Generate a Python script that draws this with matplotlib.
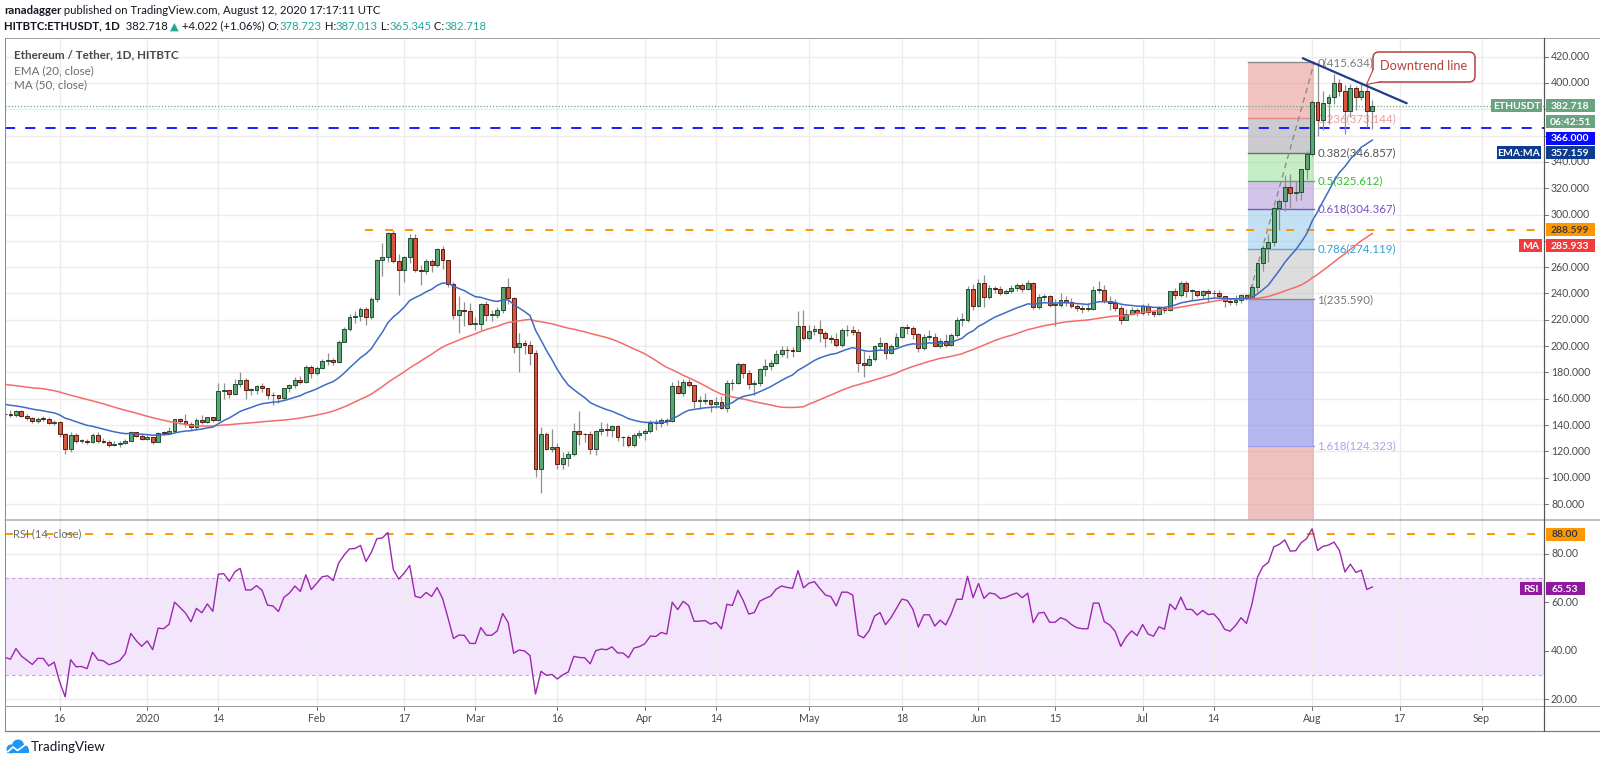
import numpy as np
import matplotlib
matplotlib.use("Agg")
import matplotlib.pyplot as plt
from matplotlib.transforms import IdentityTransform
from matplotlib.patches import Rectangle, FancyBboxPatch, Polygon, Circle
from matplotlib.lines import Line2D

plt.rcParams['font.family'] = ['Lato', 'DejaVu Sans']

W, H = 1600, 763

# ---- ETH/USDT daily candles, 6 Dec 2019 .. 12 Aug 2020 (day 0 = 16 Dec 2019) ----
FIRST_DAY = -10

# closes before the visible window (18 Oct - 5 Dec 2019), only feed the EMA/MA/RSI
pre_close = [172.3, 173.9, 175.2, 174.0, 171.4, 160.5, 160.8, 180.8, 179.7, 184.2, 183.8, 191.0, 183.2, 182.6,
             183.0, 182.6, 181.0, 186.1, 188.5, 191.0, 186.8, 184.5, 186.2, 189.0, 185.5, 187.0, 187.4, 184.0,
             180.3, 182.7, 184.2, 178.1, 175.2, 174.5, 161.4, 149.6, 151.4, 139.7, 145.6, 147.5, 152.2, 151.2,
             155.4, 151.5, 150.8, 149.2, 147.6, 146.2, 148.1]

close_dec = [148.3, 147.5, 150.4, 147.2, 145.3, 143.4, 144.9, 144.8, 141.8, 142.6, 132.9, 121.6, 132.8,
             128.1, 128.2, 126.8, 132.2, 127.8, 127.3, 125.1, 125.6, 126.3, 128.2, 134.4, 131.5, 129.2]
high_dec = [149.5, 151.2, 151.4, 151.8, 148.3, 146.0, 146.2, 146.8, 146.0, 144.1, 143.3, 133.8, 134.8,
            133.9, 129.5, 129.2, 133.8, 135.1, 129.9, 128.9, 127.8, 128.0, 129.6, 135.5, 134.8, 133.7]
low_dec = [145.0, 146.3, 146.5, 146.2, 144.0, 141.4, 141.6, 143.2, 141.1, 140.2, 131.0, 117.8, 119.2,
           126.5, 126.2, 125.8, 126.6, 126.0, 126.5, 123.3, 124.1, 123.7, 125.7, 127.6, 130.8, 128.4]

close_jan = [130.8, 127.3, 134.3, 134.1, 135.6, 144.6, 142.9, 141.1, 138.2, 143.6, 142.2, 145.9, 143.6,
             165.9, 166.3, 163.8, 171.2, 174.5, 166.9, 166.9, 169.8, 168.2, 162.9, 162.6, 160.6, 167.9,
             170.3, 174.6, 172.9, 184.3, 179.2]
high_jan = [132.8, 131.0, 134.7, 135.5, 138.3, 144.9, 145.1, 148.2, 142.6, 145.1, 147.5, 146.3, 146.3,
            172.0, 172.0, 166.8, 174.8, 180.0, 176.0, 167.9, 170.7, 172.0, 168.2, 165.0, 162.6, 168.0,
            171.2, 176.5, 177.5, 185.5, 186.0]
low_jan = [128.8, 125.9, 126.8, 132.7, 133.9, 135.4, 140.9, 138.9, 136.4, 136.4, 140.8, 141.4, 142.1,
           143.2, 159.5, 160.4, 162.8, 169.0, 159.5, 163.1, 163.3, 165.5, 159.8, 155.5, 156.8, 159.5,
           165.3, 168.3, 171.5, 171.8, 176.0]

close_feb = [183.6, 188.7, 189.5, 188.0, 203.2, 213.1, 222.5, 223.1, 228.2, 222.5, 235.8, 265.3, 267.9,
             285.7, 264.6, 258.2, 267.9, 282.4, 258.2, 257.0, 264.6, 261.3, 274.0, 265.3, 247.3, 223.3,
             227.1, 226.6, 217.0]
high_feb = [185.0, 190.5, 195.0, 191.0, 204.5, 214.5, 224.5, 226.5, 229.5, 229.8, 237.2, 266.0, 278.5,
            287.0, 288.6, 270.0, 268.2, 285.0, 285.5, 262.0, 266.2, 266.5, 274.9, 275.9, 265.6, 249.0,
            238.3, 233.4, 232.6]
low_feb = [178.3, 182.8, 186.0, 185.8, 187.3, 202.8, 211.5, 217.5, 218.8, 216.2, 220.6, 233.8, 253.0,
           264.0, 263.5, 238.5, 249.0, 263.0, 256.0, 246.2, 255.0, 256.6, 259.8, 259.0, 244.6, 220.6,
           210.0, 215.1, 215.8]

close_mar = [217.0, 232.0, 223.8, 223.8, 227.6, 245.0, 236.6, 199.1, 202.2, 201.0, 194.5, 106.6, 133.4,
             121.9, 123.0, 110.4, 115.0, 118.1, 135.4, 133.4, 132.9, 121.9, 135.4, 137.2, 136.3, 139.0,
             130.9, 130.8, 124.8, 132.4, 133.6]
high_mar = [222.4, 232.5, 234.0, 227.4, 229.9, 245.2, 251.5, 237.5, 209.9, 204.9, 204.2, 196.9, 138.5,
            134.4, 136.7, 126.4, 119.3, 120.0, 141.9, 151.0, 134.2, 135.4, 136.0, 142.5, 141.5, 139.8,
            140.3, 131.8, 132.5, 134.0, 135.9]
low_mar = [212.4, 212.3, 219.0, 219.4, 221.5, 225.3, 232.0, 195.1, 180.2, 194.2, 185.8, 100.5, 88.0,
           121.1, 119.7, 106.5, 106.7, 108.6, 116.2, 125.0, 127.3, 117.9, 117.5, 132.6, 131.9, 131.3,
           127.9, 124.0, 123.5, 123.7, 130.3]

close_apr = [135.8, 141.6, 141.3, 144.2, 142.9, 170.0, 164.6, 173.1, 170.2, 158.2, 158.3, 158.8, 156.3,
             157.6, 153.3, 172.3, 171.6, 186.4, 179.9, 170.9, 172.2, 182.5, 185.2, 187.4, 194.2, 197.4,
             196.7, 196.3, 215.2, 206.3]
high_apr = [136.8, 143.8, 144.3, 145.0, 145.2, 172.8, 174.0, 175.2, 175.0, 170.2, 161.8, 164.6, 158.8,
            161.0, 161.8, 174.0, 175.3, 188.2, 187.5, 181.7, 174.3, 183.3, 189.9, 189.6, 197.1, 200.4,
            199.8, 199.5, 226.8, 227.5]
low_apr = [128.5, 134.0, 136.2, 138.3, 140.1, 142.3, 163.6, 162.2, 168.7, 153.3, 152.5, 155.9, 149.8,
           152.8, 152.4, 150.2, 167.0, 171.2, 176.0, 167.6, 162.8, 170.0, 177.0, 181.6, 186.4, 191.5,
           190.6, 192.0, 196.1, 205.0]

close_may = [211.4, 213.0, 209.6, 206.4, 205.6, 201.0, 211.9, 211.9, 210.6, 187.5, 185.5, 190.0, 200.0,
             202.6, 195.0, 200.0, 207.0, 214.7, 213.9, 209.2, 198.3, 207.1, 207.1, 200.1, 204.0, 201.1,
             208.4, 219.9, 219.9, 243.6, 230.8]
high_may = [215.8, 216.0, 220.2, 211.5, 208.5, 210.0, 214.0, 216.0, 215.5, 213.0, 196.5, 193.0, 200.5,
            207.2, 203.3, 201.7, 210.0, 215.4, 216.5, 215.0, 210.0, 209.5, 212.2, 210.2, 206.0, 209.0,
            209.8, 222.0, 225.5, 245.5, 247.5]
low_may = [205.0, 208.1, 203.5, 199.0, 202.5, 199.0, 199.5, 207.5, 208.3, 180.0, 176.5, 185.0, 188.5,
           198.0, 190.5, 194.1, 199.5, 206.1, 209.1, 205.5, 195.3, 196.8, 204.4, 200.0, 198.9, 199.1,
           200.0, 206.8, 215.5, 218.3, 227.4]

close_jun = [248.1, 237.6, 244.3, 243.6, 240.5, 241.8, 244.3, 246.1, 243.6, 247.6, 229.8, 237.5, 238.0,
             231.6, 231.6, 234.7, 233.4, 230.8, 229.0, 228.5, 228.5, 243.0, 243.0, 234.1, 232.4, 229.0,
             220.2, 224.7, 227.8, 225.2]
high_jun = [251.0, 253.8, 246.2, 246.0, 245.8, 243.2, 246.6, 247.8, 248.0, 250.5, 248.5, 239.5, 239.9,
            239.2, 236.0, 240.5, 238.0, 236.7, 232.0, 231.5, 232.7, 245.5, 249.5, 246.5, 237.8, 236.0,
            231.0, 228.5, 230.0, 229.0]
low_jun = [230.0, 229.5, 236.0, 240.0, 239.0, 239.5, 240.3, 242.2, 241.0, 242.9, 228.0, 228.5, 234.5,
           230.0, 215.0, 229.5, 230.5, 228.8, 226.5, 225.5, 227.0, 227.8, 240.0, 232.5, 227.5, 227.0,
           216.5, 219.6, 224.0, 222.8]

close_jul = [230.8, 225.7, 224.5, 229.0, 227.8, 241.8, 239.2, 247.6, 241.8, 241.8, 239.2, 241.8, 240.0,
             240.4, 238.0, 234.0, 233.2, 235.4, 238.6, 236.5, 245.2, 263.4, 274.4, 279.4, 304.8, 310.3,
             321.2, 316.1, 316.9, 334.4, 345.8]
high_jul = [232.0, 233.0, 227.5, 230.8, 230.5, 242.2, 244.0, 249.5, 249.5, 243.4, 241.9, 242.6, 243.3,
            243.0, 242.4, 238.0, 235.6, 238.5, 239.4, 239.8, 248.2, 264.0, 276.6, 285.0, 306.5, 312.2,
            329.7, 331.0, 325.0, 335.0, 348.0]
low_jul = [224.0, 223.5, 222.5, 223.6, 225.0, 227.0, 236.0, 237.5, 237.0, 235.0, 237.2, 236.8, 233.9,
           236.5, 236.8, 230.0, 231.0, 231.4, 232.5, 235.2, 235.6, 241.5, 256.8, 263.6, 276.0, 288.0,
           302.8, 305.0, 310.5, 311.0, 326.8]

close_aug = [385.8, 371.9, 385.0, 389.1, 399.7, 394.2, 379.0, 396.0, 389.6, 394.2, 378.7, 382.7]
high_aug = [387.0, 415.6, 393.6, 392.0, 407.0, 403.2, 398.7, 399.5, 398.0, 400.5, 398.5, 387.0]
low_aug = [344.5, 360.0, 364.5, 368.5, 383.8, 390.0, 361.3, 374.2, 379.5, 386.8, 366.5, 365.3]

# time axis
tick_days = [0, 16, 29, 47, 63, 76, 91, 107, 120, 137, 154, 168, 182, 198, 211, 229, 245, 260]
tick_labels = ['16', '2020', '14', 'Feb', '17', 'Mar', '16', 'Apr', '14', 'May', '18', 'Jun', '15',
               'Jul', '14', 'Aug', '17', 'Sep']
price_ticks = [80, 100, 120, 140, 160, 180, 200, 220, 240, 260, 280, 300, 320, 340, 360, 380, 400, 420]
rsi_ticks = [20, 40, 60, 80]

# fibonacci retracement drawn on the chart (Jul 20 low -> Aug 2 high)
fib_start, fib_end = 217.3, 229.4
fib_ratios = ['0', '0.236', '0.382', '0.5', '0.618', '0.786', '1', '1.618']
fib_prices = [415.634, 373.144, 346.857, 325.612, 304.367, 274.119, 235.590, 124.323]

# other drawings / levels
resistance, resistance_from = 288.599, 55.8
support = 366.000
trend_days = [227.3, 246.3]
trend_prices = [418.8, 384.6]
rsi_top_line = 88.0
last_close_txt, ema_txt, ma_txt, rsi_txt = '382.718', '357.159', '285.933', '65.53'

# ---------------------------------------------------------------------------
close = np.array(close_dec + close_jan + close_feb + close_mar + close_apr + close_may + close_jun
                 + close_jul + close_aug)
high = np.array(high_dec + high_jan + high_feb + high_mar + high_apr + high_may + high_jun
                + high_jul + high_aug)
low = np.array(low_dec + low_jan + low_feb + low_mar + low_apr + low_may + low_jun + low_jul + low_aug)
days = np.arange(len(close)) + FIRST_DAY
opens = np.r_[pre_close[-1], close[:-1]]   # 24h market: each candle opens at previous close
all_close = np.r_[pre_close, close]
n = len(close)


def ema(v, span):
    a = 2.0 / (span + 1)
    out = np.empty(len(v))
    out[0] = v[0]
    for i in range(1, len(v)):
        out[i] = a * v[i] + (1 - a) * out[i - 1]
    return out


def rsi(v, length=14):
    d = np.diff(v)
    g, l = np.clip(d, 0, None), np.clip(-d, 0, None)
    out = np.full(len(v), np.nan)
    ag, al = g[:length].mean(), l[:length].mean()
    out[length] = 100 - 100 / (1 + ag / al)
    for i in range(length + 1, len(v)):
        ag = (ag * (length - 1) + g[i - 1]) / length
        al = (al * (length - 1) + l[i - 1]) / length
        out[i] = 100 - 100 / (1 + ag / al)
    return out


ema20 = ema(all_close, 20)[-n:]
ma50 = np.convolve(all_close, np.ones(50) / 50, 'valid')[-n:]
rsi14 = rsi(all_close)[-n:]

# ---------------------------------------------------------------------------
GRID = '#ececec'
TXT = '#4a4a4a'
DARK = '#131722'
GREEN, GREEN_EDGE = '#5ea477', '#1f4f31'
RED, RED_EDGE = '#d8553f', '#5c1d12'
ID = IdentityTransform()

fig = plt.figure(figsize=(W / 100, H / 100), dpi=100)
fig.patch.set_facecolor('white')


def fy(y):
    return H - y


def pline(x0, y0, x1, y1, color, lw=1.0, z=30):
    fig.add_artist(Line2D([x0, x1], [fy(y0), fy(y1)], transform=ID, color=color, lw=lw * 0.72, zorder=z))


tag_spans = []   # vertical extent of the tags sitting on the price scale


def tag(x0, x1, yc, fc, txt, tc='white', h=13, fs=7.5, z=40):
    fig.add_artist(Rectangle((x0, fy(yc + h / 2)), x1 - x0, h, transform=ID, facecolor=fc,
                             edgecolor='none', zorder=z))
    fig.text((x0 + x1) / 2, fy(yc) - 0.5, txt, transform=ID, ha='center', va='center', color=tc,
             fontsize=fs, fontweight='bold', zorder=z + 1)
    if x1 > 1544:
        tag_spans.append((yc - h / 2, yc + h / 2))


ax = fig.add_axes([5 / W, 1 - 519 / H, 1539 / W, 481 / H])
rx = fig.add_axes([5 / W, 1 - 706 / H, 1539 / W, 185 / H])
for a in (ax, rx):
    a.set_xlim(-10.0, 271.4)
    a.set_facecolor('white')
    for s in a.spines.values():
        s.set_visible(False)
    a.tick_params(left=False, bottom=False, labelleft=False, labelbottom=False)
    for d in tick_days:
        a.axvline(d, color=GRID, lw=1, zorder=0.5)
ax.set_ylim(68.6, 434.2)
rx.set_ylim(17.24, 93.47)
for p in price_ticks:
    ax.axhline(p, color=GRID, lw=1, zorder=0.5)
for r in rsi_ticks:
    rx.axhline(r, color=GRID, lw=1, zorder=0.5)


def ypix(a, v):
    return H - a.transData.transform((0, v))[1]


# ---- fibonacci zones ----
fib_fill = ['#e38983', '#9b9ba3', '#91dd91', '#a78dd5', '#89c5e9', '#bdbdbd', '#6d71df', '#e18581']
fib_line = ['#8a8a8a', '#e88a85', '#707070', '#52b452', '#7e57c2', '#5aaee0', '#8a8a8a', '#9fa3ee']
fib_text = ['#7a7a7a', '#eb9c97', '#555555', '#2fbf2f', '#7b4fc0', '#2f9ed8', '#777777', '#a2a5ef']
bounds = fib_prices + [0]
for i in range(len(fib_prices)):
    ax.fill_between([fib_start, fib_end], bounds[i + 1], bounds[i], color=fib_fill[i], alpha=0.5,
                    lw=0, zorder=1)
    ax.plot([fib_start, fib_end], [fib_prices[i], fib_prices[i]], color=fib_line[i], lw=1, zorder=1.5)
    ax.annotate(f'{fib_ratios[i]}({fib_prices[i]:.3f})', (fib_end, fib_prices[i]),
                xytext=(3, 0), textcoords='offset pixels', ha='left', va='center',
                color=fib_text[i], fontsize=8.3, zorder=2)
ax.plot([fib_start, fib_end], [fib_prices[-2], fib_prices[0]], color='#8c8c8c', lw=1,
        ls=(0, (4, 3)), zorder=2)

# ---- horizontal levels ----
ax.axhline(support, color='#1a1aff', lw=1.4, ls=(0, (5.2, 5.2)), zorder=2.5)
ax.plot([resistance_from, 271.4], [resistance, resistance], color='#ff9800', lw=1.4,
        ls=(0, (4.1, 6.2)), zorder=2.5)
ax.axhline(float(last_close_txt), color='#6aa87c', lw=0.9, ls=(0, (1, 1.5)), zorder=2.5)

# ---- candles ----
up = close >= opens
body_lo = np.minimum(opens, close)
body_h = np.maximum(np.abs(close - opens), 0.5)
ax.vlines(days, low, high, color='#8f8f8f', lw=0.9, zorder=3)
ax.bar(days[up], body_h[up], 0.7, body_lo[up], color=GREEN, edgecolor=GREEN_EDGE, lw=0.7, zorder=4)
ax.bar(days[~up], body_h[~up], 0.7, body_lo[~up], color=RED, edgecolor=RED_EDGE, lw=0.7, zorder=4)

# ---- moving averages ----
ax.plot(days, ma50, color='#f26d6a', lw=1.1, zorder=5)
ax.plot(days, ema20, color='#3d6bc6', lw=1.1, zorder=5)

# ---- downtrend line ----
ax.plot(trend_days, trend_prices, color='#1f3c88', lw=1.6, zorder=6, solid_capstyle='round')

# ---- RSI pane ----
rx.axhspan(30, 70, color='#f3e6fc', lw=0, zorder=0.2)
rx.axhline(70, color='#c8a2d8', lw=0.8, ls=(0, (3, 3)), zorder=1)
rx.axhline(30, color='#c8a2d8', lw=0.8, ls=(0, (3, 3)), zorder=1)
rx.axhline(rsi_top_line, color='#ff9800', lw=1.4, ls=(0, (4.1, 6.2)), zorder=2)
rx.plot(days, rsi14, color='#9c27b0', lw=1.0, zorder=3)
rx.text(8 / 1539, rsi_top_line, 'RSI (14, close)', transform=rx.get_yaxis_transform(),
        ha='left', va='center', color='#6b6b6b', fontsize=8, zorder=4)

# ---- price axis tags ----
y_last = ypix(ax, float(last_close_txt))
tag(1491, 1542, y_last, '#6aa37f', 'ETHUSDT')
tag(1545.5, 1595, y_last, '#6aa37f', last_close_txt)
tag(1545.5, 1595, y_last + 16, '#6aa37f', '06:42:51')
tag(1545.5, 1595, ypix(ax, support) + 10.5, '#0a0aff', f'{support:.3f}')
tag(1497, 1541, ypix(ax, float(ema_txt)) + 13.5, '#0d3b8e', 'EMA:MA')
tag(1545.5, 1595, ypix(ax, float(ema_txt)) + 13.5, '#0d3b8e', ema_txt)
tag(1545.5, 1595, ypix(ax, resistance), '#ff9800', f'{resistance:.3f}', tc='#3a3a3a')
tag(1519, 1542, ypix(ax, float(ma_txt)) + 12.5, '#f23c3c', 'MA')
tag(1545.5, 1595, ypix(ax, float(ma_txt)) + 12.5, '#f23c3c', ma_txt)
tag(1545.5, 1585, ypix(rx, rsi_top_line), '#ff9800', f'{rsi_top_line:.2f}', tc='#3a3a3a')
tag(1519.5, 1542, ypix(rx, float(rsi_txt)), '#8e1a9e', 'RSI')
tag(1545.5, 1585, ypix(rx, float(rsi_txt)), '#8e1a9e', rsi_txt)


def hidden(yy):
    # scale labels whose centre sits under a tag are not visible in the reference
    return any(lo - 2 < yy < hi + 2 for lo, hi in tag_spans)


# ---- axis labels ----
for p in price_ticks:
    yy = ypix(ax, p)
    pline(1544, yy, 1548, yy, '#777777', 1, z=25)
    if not hidden(yy):
        fig.text(1551, fy(yy), f'{p:.3f}', transform=ID, ha='left', va='center', color=TXT,
                 fontsize=7.6, zorder=25)
for r in rsi_ticks:
    yy = ypix(rx, r)
    pline(1544, yy, 1548, yy, '#777777', 1, z=25)
    if not hidden(yy):
        fig.text(1551, fy(yy), f'{r:.2f}', transform=ID, ha='left', va='center', color=TXT,
                 fontsize=7.6, zorder=25)
for d, lab in zip(tick_days, tick_labels):
    xx = rx.transData.transform((d, 0))[0]
    pline(xx, 706, xx, 710, '#777777', 1, z=25)
    fig.text(xx, fy(719), lab, transform=ID, ha='center', va='center', color=TXT, fontsize=7.6)

# ---- frame ----
pline(5, 38, 1600, 38, '#a0a0a0', 1)
pline(5, 38, 5, 731, '#8a8a8a', 1)
pline(5, 520, 1600, 520, '#b0b0b0', 1.6)
pline(5, 706, 1600, 706, '#9a9a9a', 1)
pline(5, 731, 1600, 731, '#7a7a7a', 1.2)
pline(1544, 38, 1544, 731, '#555555', 1.2)

# ---- callout ----
CALL = '#b3413f'
fig.add_artist(FancyBboxPatch((1373, fy(82)), 102, 30, boxstyle='round,pad=0,rounding_size=6',
                              transform=ID, facecolor='white', edgecolor=CALL, lw=1.1, zorder=45))
fig.add_artist(Polygon([(1373.6, fy(69)), (1366.5, fy(84.5)), (1381, fy(81.4))], closed=True,
                       transform=ID, facecolor='white', edgecolor='none', zorder=46))
pline(1373.4, 69, 1366.5, 84.5, CALL, 1.1, z=47)
pline(1366.5, 84.5, 1381, 81.6, CALL, 1.1, z=47)
fig.text(1424, fy(66.5), 'Downtrend line', transform=ID, ha='center', va='center', color=CALL,
         fontsize=9.2, zorder=48)

# ---- legend inside chart ----
fig.text(14, fy(54.5), 'Ethereum / Tether, 1D, HITBTC', transform=ID, ha='left', va='center',
         color='#4a4a4a', fontsize=8.4, fontweight='bold', zorder=30)
fig.text(14, fy(70.5), 'EMA (20, close)', transform=ID, ha='left', va='center', color='#6b6b6b',
         fontsize=8.4, zorder=30)
fig.text(14, fy(84.5), 'MA (50, close)', transform=ID, ha='left', va='center', color='#6b6b6b',
         fontsize=8.4, zorder=30)

# ---- header ----
renderer = fig.canvas.get_renderer()


def seq(x, y, parts, fs=8.2):
    for s, c, w in parts:
        t = fig.text(x, fy(y), s, transform=ID, ha='left', va='center', color=c, fontsize=fs,
                     fontweight=w)
        x += t.get_window_extent(renderer).width


TEAL = '#26a69a'
seq(4, 11, [('ranadagger', DARK, 'bold'),
            (' published on TradingView.com, August 12, 2020 17:17:11 UTC', DARK, 'normal')])
seq(4, 26, [('HITBTC:ETHUSDT, 1D', DARK, 'bold'), ('  382.718 ', DARK, 'normal'), ('▲', TEAL, 'normal'),
            (' +4.022 (+1.06%) ', DARK, 'normal'), ('O:', DARK, 'normal'), ('378.723', TEAL, 'normal'),
            (' H:', DARK, 'normal'), ('387.013', TEAL, 'normal'), (' L:', DARK, 'normal'),
            ('365.345', TEAL, 'normal'), (' C:', DARK, 'normal'), ('382.718', TEAL, 'normal')])

# ---- TradingView logo ----
BLUE = '#2196f3'
for cx, cy, rr in [(11, 749, 4.5), (18, 745.5, 6), (24.5, 749, 4)]:
    fig.add_artist(Circle((cx, fy(cy)), rr, transform=ID, facecolor=BLUE, edgecolor='none', zorder=50))
fig.add_artist(Rectangle((7, fy(753)), 21.5, 4.5, transform=ID, facecolor=BLUE, edgecolor='none', zorder=50))
fig.add_artist(Line2D([8, 13, 17.5, 25], [fy(751.5), fy(747), fy(750.5), fy(745)], transform=ID,
                      color='white', lw=1.2, zorder=51))
fig.text(31, fy(747), 'TradingView', transform=ID, ha='left', va='center', color=DARK, fontsize=9.6)

fig.savefig('out.png', dpi=100, facecolor='white')
